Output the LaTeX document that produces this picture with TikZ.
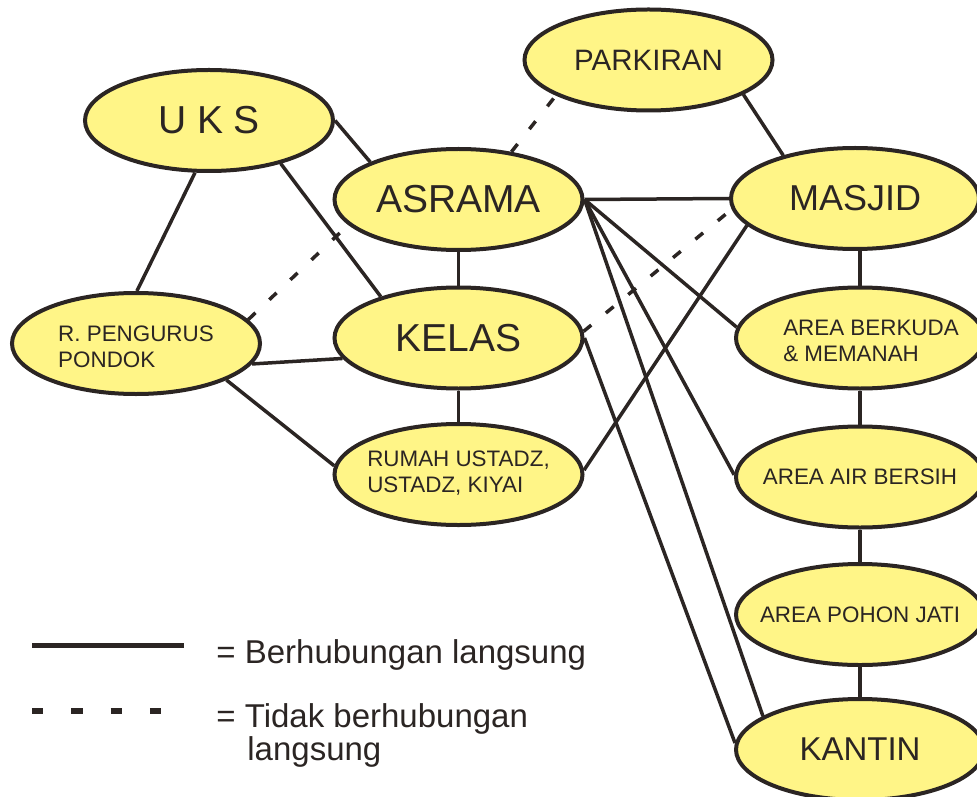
\documentclass[tikz,border=0pt]{standalone}
\usepackage{fontspec}
\setmainfont{Liberation Sans}
\usetikzlibrary{shapes.geometric,backgrounds}
\definecolor{ink}{RGB}{43,37,35}
\definecolor{fillY}{RGB}{255,245,135}
\newcommand{\zbox}[1]{\makebox[0pt][c]{#1}}
\newcommand{\twolines}[2]{\begin{tabular}{@{}l@{}}#1\\#2\end{tabular}}
\begin{document}
\begin{tikzpicture}[x=0.5pt,y=-0.5pt,
  place/.style={ellipse, draw=ink, line width=2pt, fill=fillY, minimum width=124pt, minimum height=50.5pt, inner sep=0pt, text=ink},
  fbig/.style={font=\fontsize{19.5}{22}\selectfont},
  fmas/.style={font=\fontsize{18}{21}\selectfont},
  fpark/.style={font=\fontsize{14.75}{17}\selectfont},
  fkan/.style={font=\fontsize{16.5}{19}\selectfont},
  fsmall/.style={font=\fontsize{11.2}{12.8}\selectfont},
  link/.style={draw=ink, line width=1.75pt},
  nolink/.style={draw=ink, line width=1.75pt, dash pattern=on 5pt off 9.5pt},
  legtext/.style={anchor=base west, inner sep=0pt, text=ink, font=\fontsize{16.5}{19}\selectfont},
]
\useasboundingbox (0,0) rectangle (977,796);
\clip (0,0) rectangle (977,796);

% nodes
\node[place,fbig] (uks) at (209,120.5) {\zbox{U K S}};
\node[place,fpark] (parkiran) at (648.5,60) {\zbox{PARKIRAN}};
\node[place,fbig] (asrama) at (458.5,199.5) {\zbox{ASRAMA}};
\node[place,fmas] (masjid) at (855,198.5) {\zbox{MASJID}};
\node[place,fsmall] (rp) at (136,343.5) {\zbox{\raisebox{-5.8pt}[0pt][0pt]{\twolines{R. PENGURUS}{PONDOK}}}};
\node[place,fbig] (kelas) at (458.5,338) {\zbox{KELAS}};
\node[place,fsmall] (berkuda) at (860,338) {\zbox{\hspace*{11pt}\raisebox{-5.3pt}[0pt][0pt]{\twolines{AREA BERKUDA}{\& MEMANAH}}}};
\node[place,fsmall] (rumah) at (458.5,474.5) {\zbox{\twolines{RUMAH USTADZ,}{USTADZ, KIYAI}}};
\node[place,fsmall] (air) at (860,477) {\zbox{AREA AIR BERSIH}};
\node[place,fsmall] (pohon) at (860,614.5) {\zbox{AREA POHON JATI}};
\node[place,fkan] (kantin) at (860,749.5) {\zbox{KANTIN}};

% connectors
\begin{scope}[on background layer]
\draw[link] (uks.0) -- (asrama.157);
\draw[link] (uks.-31) -- (kelas.152);
\draw[link] (uks.255) -- (rp.89);
\draw[link] (rp.-10) -- (kelas.190);
\draw[link] (rp.-22.5) -- (rumah.176);
\draw[link] (asrama.south) -- (kelas.north);
\draw[link] (kelas.south) -- (rumah.north);
\draw[link] (parkiran.-20.6) -- (masjid.149);
\draw[link] (asrama.east) -- (masjid.west);
\draw[link] (asrama.east) -- (berkuda.175.5);
\draw[link] (asrama.east) -- (air.179);
\draw[link] (asrama.east) -- (kantin.161);
\draw[link] (kelas.east) -- (kantin.177);
\draw[link] (masjid.194.5) -- (rumah.2);
\draw[link] (berkuda.north) -- (berkuda.north |- masjid.south);
\draw[link] (berkuda.south) -- (air.north);
\draw[link] (air.south) -- (pohon.north);
\draw[link] (pohon.south) -- (kantin.north);
\draw[nolink] (rp.12.4) -- (asrama.193.7);
\draw[nolink] (asrama.42.7) -- (parkiran.201);
\draw[nolink] (kelas.3) -- (masjid.185.4);
\end{scope}

% legend
\coordinate (l1a) at (32,645);
\coordinate (l1b) at (184,645);
\coordinate (l2a) at (32,711);
\coordinate (l2b) at (162,711);
\draw[draw=ink, line width=2.5pt] (l1a) -- (l1b);
\draw[draw=ink, line width=3pt, dash pattern=on 5.65pt off 14pt] (l2a) -- (l2b);
\node[legtext] (t1) at (216,663) {= Berhubungan langsung};
\node[legtext] (t2) at (216,727) {= Tidak berhubungan};
\node[legtext] (t3) at (247,760) {langsung};
\end{tikzpicture}
\end{document}
